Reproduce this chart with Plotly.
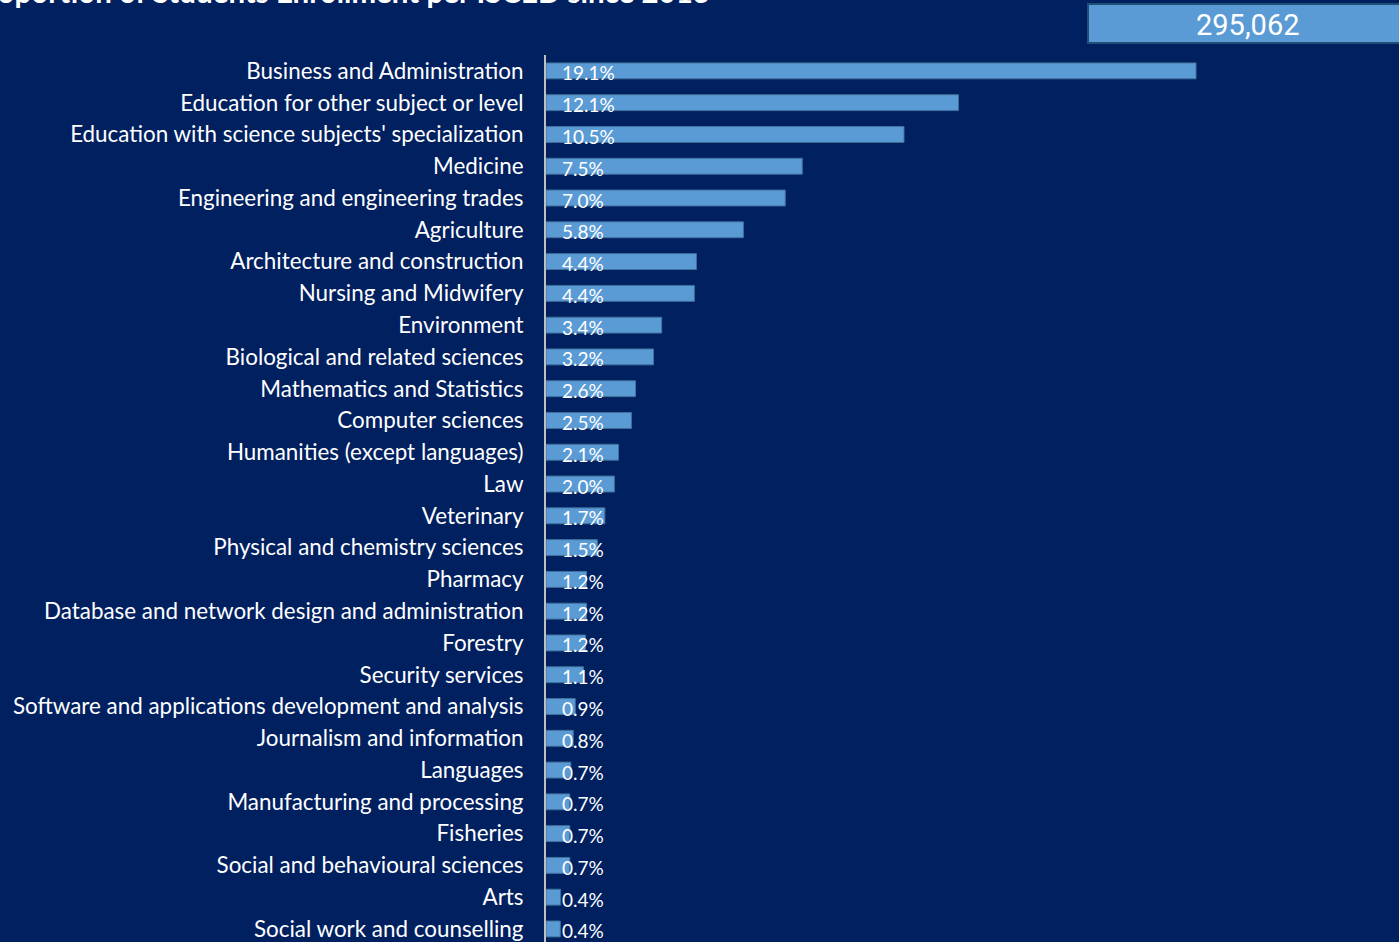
import plotly.graph_objects as go

categories = [
    "Business and Administration",
    "Education for other subject or level",
    "Education with science subjects' specialization",
    "Medicine",
    "Engineering and engineering trades",
    "Agriculture",
    "Architecture and construction",
    "Nursing and Midwifery",
    "Environment",
    "Biological and related sciences",
    "Mathematics and Statistics",
    "Computer sciences",
    "Humanities (except languages)",
    "Law",
    "Veterinary",
    "Physical and chemistry sciences",
    "Pharmacy",
    "Database and network design and administration",
    "Forestry",
    "Security services",
    "Software and applications development and analysis",
    "Journalism and information",
    "Languages",
    "Manufacturing and processing",
    "Fisheries",
    "Social and behavioural sciences",
    "Arts",
    "Social work and counselling",
]
shares = [19.10, 12.12, 10.52, 7.53, 7.03, 5.80, 4.42, 4.36, 3.40, 3.16,
          2.63, 2.51, 2.13, 2.01, 1.73, 1.51, 1.19, 1.19, 1.16, 1.10,
          0.86, 0.80, 0.73, 0.70, 0.70, 0.70, 0.43, 0.42]
labels = [f"{v:.1f}%" for v in shares]
title_text = "Proportion of Students Enrollment per ISCED since 2013"
total_text = "295,062"

BG = "#002060"
BAR = "#5B9BD5"

W, H = 1399, 942
ML, MT = 546, 55
pw = W - ML
ph = H - MT
px_per_unit = 650 / 19.1
xmax = pw / px_per_unit
row = 31.78
ybottom = -0.5 + ph / row

def px2x(p):
    return (p - ML) / pw

def py2y(p):
    return (H - p) / ph

fig = go.Figure()
fig.add_trace(go.Bar(
    x=shares, y=categories, orientation="h",
    marker=dict(color=BAR, line=dict(color="#41719C", width=1)),
    width=0.5, hoverinfo="skip",
))
for cat, lab in zip(categories, labels):
    fig.add_annotation(x=0.40, y=cat, xref="x", yref="y", text=lab,
                       showarrow=False, xanchor="left", yanchor="middle",
                       yshift=-2,
                       font=dict(color="white", size=19, family="Lato"))

fig.add_shape(type="rect", xref="paper", yref="paper",
              x0=px2x(1088), x1=px2x(1410), y0=py2y(43), y1=py2y(4),
              fillcolor=BAR, line=dict(color="#1F4E79", width=2))
fig.add_annotation(xref="paper", yref="paper", x=px2x(1248), y=py2y(25),
                   text=total_text, showarrow=False, xanchor="center", yanchor="middle",
                   font=dict(color="white", size=29, family="Roboto"))
fig.add_annotation(xref="paper", yref="paper", x=px2x(712), y=py2y(-9),
                   text="<b>" + title_text + "</b>", showarrow=False,
                   xanchor="right", yanchor="middle",
                   font=dict(color="white", size=29.5, family="Lato"))

fig.update_layout(
    width=W, height=H,
    margin=dict(l=ML, r=0, t=MT, b=0),
    paper_bgcolor=BG, plot_bgcolor=BG,
    showlegend=False,
    bargap=0.5,
    xaxis=dict(range=[0, xmax], showgrid=False, zeroline=False,
               showticklabels=False, showline=False, fixedrange=True),
    yaxis=dict(range=[ybottom, -0.5], showgrid=False, zeroline=False,
               showline=True, linecolor="#BFBFBF", linewidth=2,
               ticks="", ticklabelstandoff=16,
               tickfont=dict(color="white", size=22.4, family="Lato"),
               fixedrange=True),
)

fig.write_html("out.html", config={"displayModeBar": False},
               post_script="document.body.style.margin='0';document.body.style.overflow='hidden';")
